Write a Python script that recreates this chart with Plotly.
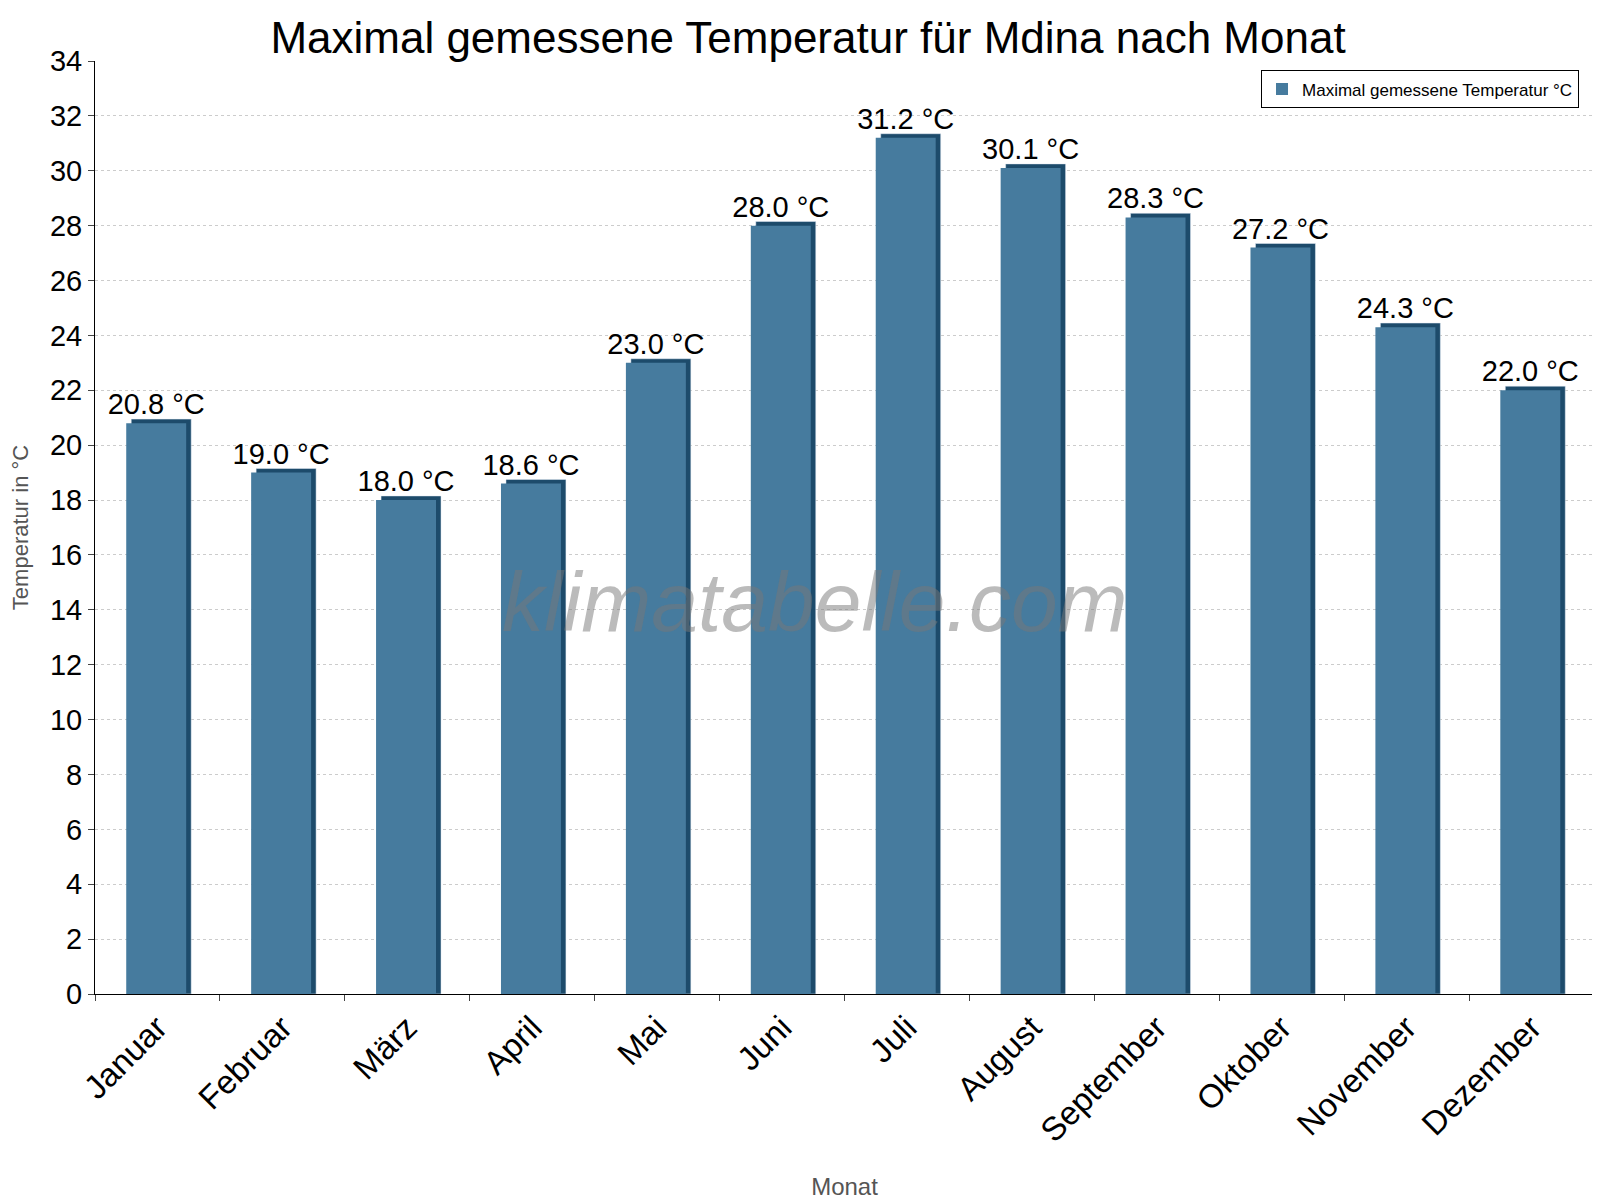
import plotly.graph_objects as go

months = ["Januar", "Februar", "März", "April", "Mai", "Juni", "Juli",
          "August", "September", "Oktober", "November", "Dezember"]
temps = [20.8, 19.0, 18.0, 18.6, 23.0, 28.0, 31.2, 30.1, 28.3, 27.2, 24.3, 22.0]
labels = [f"{t:.1f} °C" for t in temps]

fig = go.Figure()
# dark "3D" back face
fig.add_trace(go.Bar(x=months, y=[t + 0.15 for t in temps], width=0.48, offset=-0.21,
                     marker_color="#1d4b6b", showlegend=False, hoverinfo="skip"))
fig.add_trace(go.Bar(x=months, y=temps, width=0.48, offset=-0.25,
                     marker_color="#467b9e", marker_line_width=0,
                     name="Maximal gemessene Temperatur °C",
                     text=labels, textposition="outside", cliponaxis=False,
                     constraintext="none",
                     textfont=dict(size=29, color="black")))

fig.update_layout(
    width=1600, height=1200, barmode="overlay",
    plot_bgcolor="white", paper_bgcolor="white",
    font=dict(family="Liberation Sans, Arial", color="black"),
    title=dict(text="Maximal gemessene Temperatur für Mdina nach Monat",
               x=0.5, y=0.988, yanchor="top", font=dict(size=44)),
    margin=dict(l=82, r=14, t=53, b=212),
    legend=dict(x=0.99, y=0.99, xanchor="right", yanchor="top",
                bordercolor="black", borderwidth=1, font=dict(size=17),
                itemsizing="constant"),
    xaxis=dict(title=dict(text="Monat", font=dict(size=24, color="#555"), standoff=30),
               tickangle=-45, tickfont=dict(size=33), showline=True,
               linecolor="black", ticks="outside", ticklen=6, tickson="boundaries"),
    yaxis=dict(title=dict(text="Temperatur in °C", font=dict(size=22, color="#555")),
               range=[0, 34], dtick=2, tickfont=dict(size=29), showline=True,
               linecolor="black", ticks="outside", ticklen=6,
               gridcolor="#cccccc", griddash="dot", zeroline=False),
    annotations=[dict(text="<i>klimatabelle.com</i>", x=0.48, y=0.42,
                      xref="paper", yref="paper", showarrow=False,
                      font=dict(size=84, color="rgba(120,120,120,0.5)"))],
)
fig.write_html("out.html")
